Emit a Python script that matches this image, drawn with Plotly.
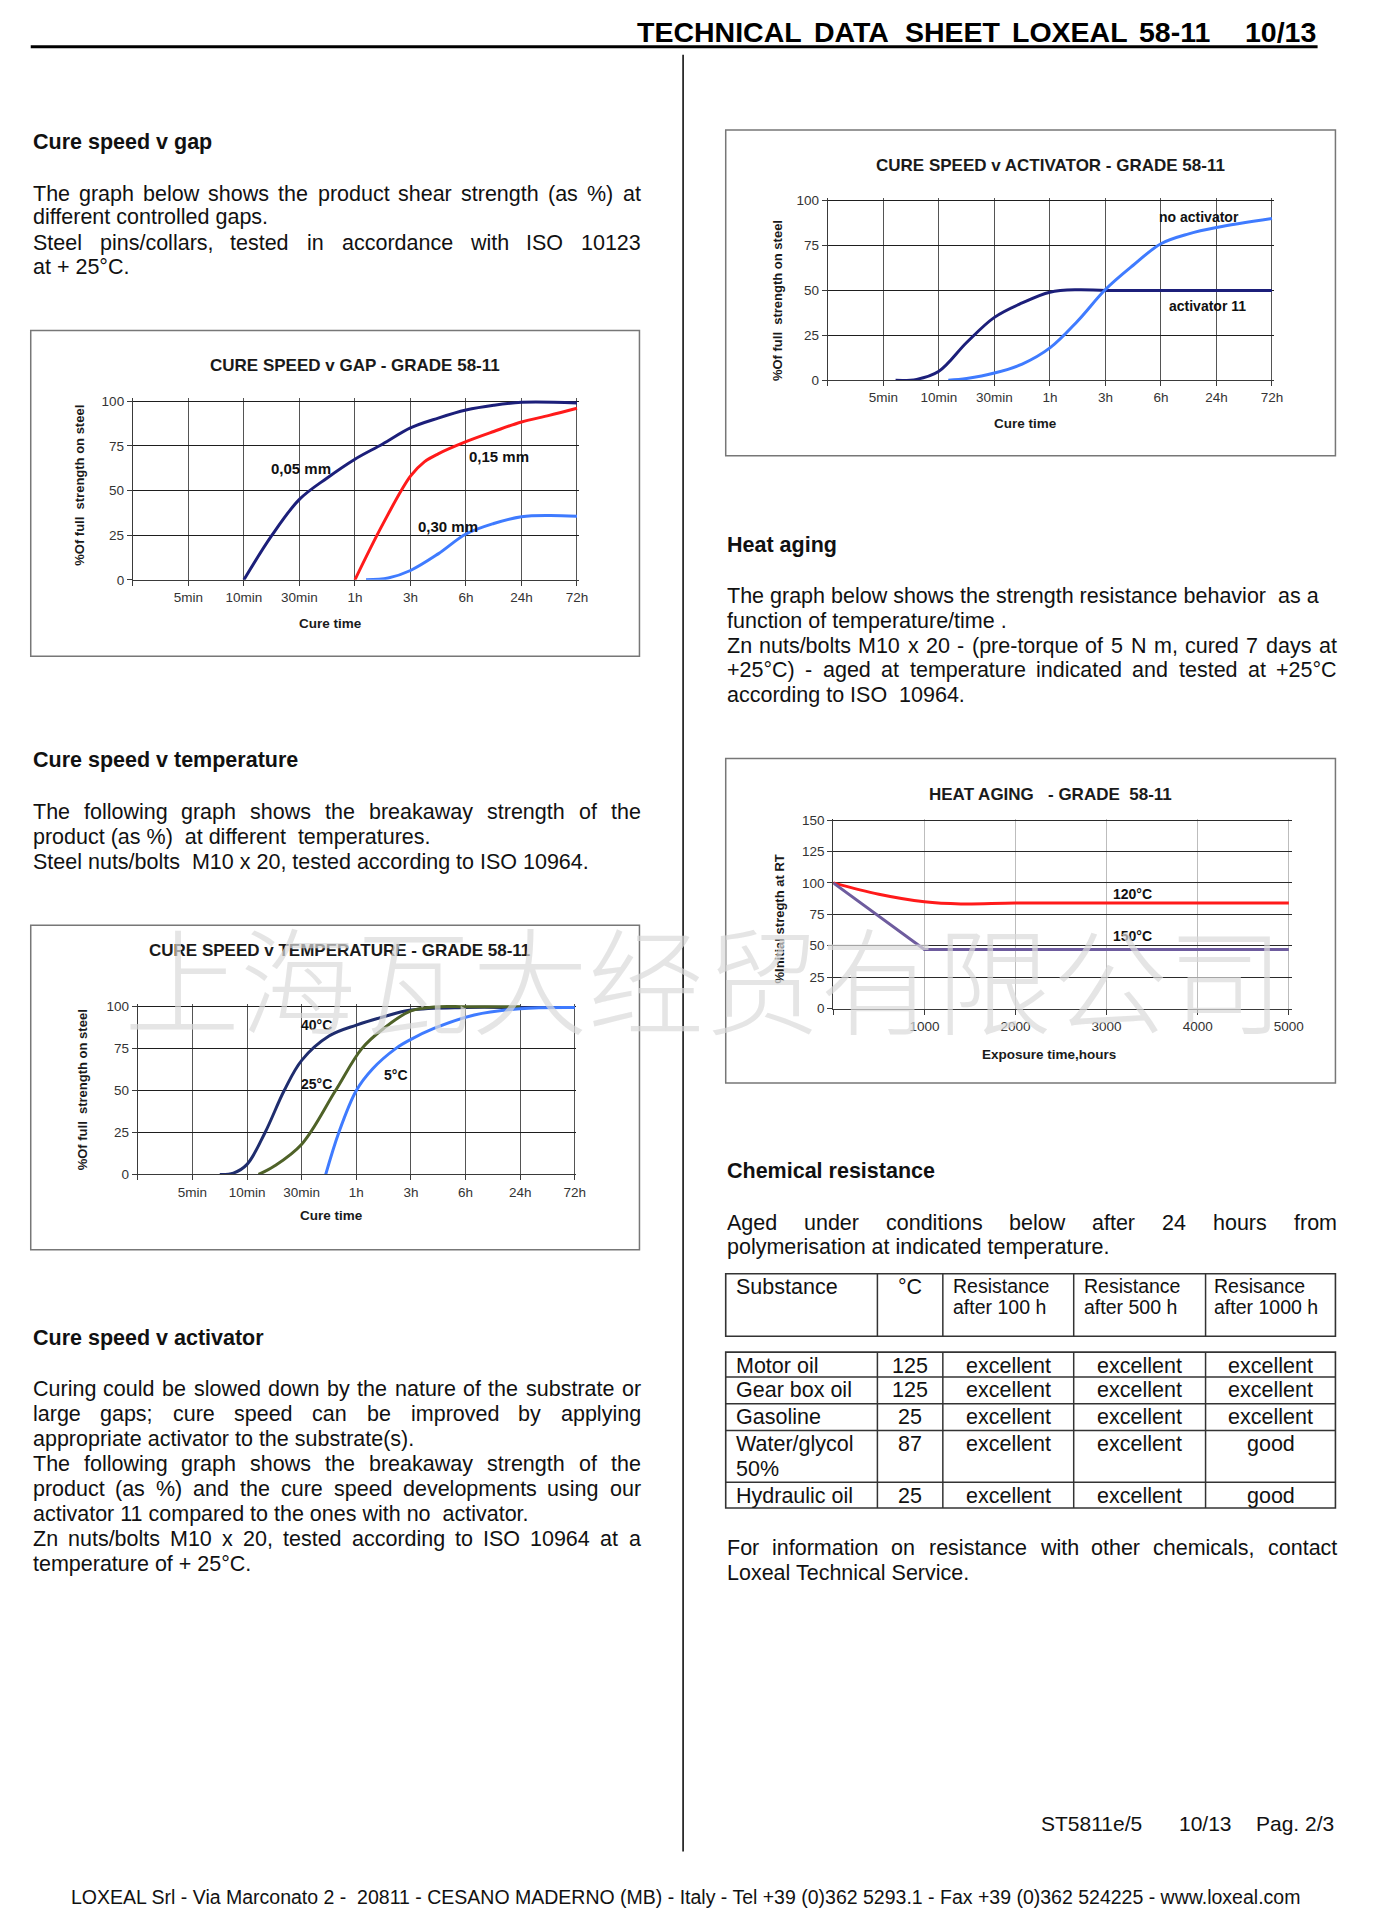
import plotly.graph_objects as go

W, H = 1398, 1920

# ---------------- data ----------------
time_ticks = ['', '5min', '10min', '30min', '1h', '3h', '6h', '24h', '72h']
pct_ticks = [0, 25, 50, 75, 100]
heat_x_ticks = [0, 1000, 2000, 3000, 4000, 5000]
heat_x_text = ['', '1000', '2000', '3000', '4000', '5000']
heat_y_ticks = [0, 25, 50, 75, 100, 125, 150]

# Cure speed v gap (x = position on the cure-time category scale, y = % strength)
gap005_t = [2.0, 2.5, 3.0, 3.5, 4.0, 4.5, 5.0, 5.5, 6.0, 6.5, 7.0, 8.0]
gap005_v = [0, 24.7, 45, 57, 67.5, 76, 85, 90.5, 95, 97.7, 99.3, 99.0]
gap015_t = [4.0, 4.5, 5.0, 5.25, 5.5, 6.0, 6.5, 7.0, 7.5, 8.0]
gap015_v = [0, 31, 58, 66, 70.5, 77.3, 83, 88.3, 92, 96]
gap030_t = [4.2, 4.6, 5.0, 5.5, 6.0, 6.5, 7.0, 7.5, 8.0]
gap030_v = [0, 1, 5.2, 14.5, 25.6, 31.5, 35.3, 36, 35.5]

# Cure speed v activator
act11_t = [1.22, 1.6, 2.0, 2.5, 3.0, 3.5, 4.0, 4.5, 5.0, 6.0, 7.0, 8.0]
act11_v = [0, 0.5, 5, 21, 35, 43, 49, 50.4, 50, 50, 50, 50]
noact_t = [2.17, 2.5, 3.0, 3.5, 4.0, 4.5, 5.0, 5.5, 6.0, 6.5, 7.0, 8.0]
noact_v = [0, 1, 4, 9, 18, 33, 50.5, 64, 76, 81.5, 85, 90]

# Cure speed v temperature
t40_t = [1.5, 1.75, 2.0, 2.33, 2.68, 3.0, 3.5, 4.0, 4.5, 5.0, 6.0, 7.0, 8.0]
t40_v = [0, 0.8, 6, 25, 50, 68, 82.5, 89, 94, 98, 99.5, 99.5, 99.5]
t25_t = [2.21, 2.5, 3.0, 3.62, 4.1, 4.5, 5.0, 5.5, 6.0, 7.0]
t25_v = [0, 5, 18, 50, 75, 87, 97.5, 100, 100, 100]
t5_t = [3.44, 3.68, 4.0, 4.3, 4.72, 5.0, 5.42, 6.16, 7.0, 8.0]
t5_v = [0, 25, 50, 63, 75, 80.5, 87, 95, 98.8, 99.5]

# Heat aging (hours, % initial strength)
h120_x = [0, 500, 1000, 1400, 2000, 3000, 4000, 5000]
h120_v = [100, 91, 85, 83.3, 84, 84, 84, 84]
h150_x = [0, 1000, 2000, 3000, 4000, 5000]
h150_v = [100, 47, 47, 47, 47, 47]

# Chemical resistance table
tbl_head = ['Substance', '°C', 'Resistance|after 100 h', 'Resistance|after 500 h', 'Resisance|after 1000 h']
substances = ['Motor oil', 'Gear box oil', 'Gasoline', 'Water/glycol|50%', 'Hydraulic oil']
temps = ['125', '125', '25', '87', '25']
res100 = ['excellent', 'excellent', 'excellent', 'excellent', 'excellent']
res500 = ['excellent', 'excellent', 'excellent', 'excellent', 'excellent']
res1000 = ['excellent', 'excellent', 'excellent', 'good', 'good']

# ---------------- helpers ----------------
FONT = 'Liberation Sans, Arial, sans-serif'
AR = {' ': 278, '!': 278, '%': 889, '(': 333, ')': 333, '+': 584, ',': 278, '-': 333, '.': 278,
      '/': 278, ':': 278, ';': 278, '°': 400}
for c in '0123456789':
    AR[c] = 556
AR.update(dict(zip('ABCDEFGHIJKLMNOPQRSTUVWXYZ',
                   [667, 667, 722, 722, 667, 611, 778, 722, 278, 500, 667, 556, 833, 722, 778, 667,
                    778, 722, 667, 611, 722, 667, 944, 667, 667, 611])))
AR.update(dict(zip('abcdefghijklmnopqrstuvwxyz',
                   [556, 556, 500, 556, 556, 278, 556, 556, 222, 222, 500, 222, 833, 556, 556, 556,
                    556, 333, 500, 278, 556, 500, 722, 500, 500, 500])))
AB = dict(AR)
AB.update(dict(zip('ABCDEFGHIJKLMNOPQRSTUVWXYZ',
                   [722, 722, 722, 722, 667, 611, 778, 722, 278, 556, 722, 611, 833, 722, 778, 667,
                    778, 722, 667, 611, 722, 667, 944, 667, 667, 611])))


def tw(s, size, table=AR):
    return sum(table.get(c, 556) for c in s) * size / 1000.0


annotations = []
shapes = []


def txt(s, xpx, ypx, size=21.5, anchor='left', color='#111111', bold=False, family=FONT, angle=0):
    annotations.append(dict(
        text=('<b>%s</b>' % s) if bold else s, x=xpx / W, y=1 - ypx / H, xref='paper', yref='paper',
        xanchor=anchor, yanchor='middle', showarrow=False, textangle=angle,
        font=dict(family=family, size=size, color=color), borderpad=0))


def line_text(s, ypx, left, right, justify, size=21.5, bold=False, color='#111111'):
    if not justify:
        txt(s, left, ypx, size, bold=bold, color=color)
        return
    words = s.split()
    table = AB if bold else AR
    widths = [tw(w, size, table) for w in words]
    gap = (right - left - sum(widths)) / (len(words) - 1)
    x = left
    for w, wd in zip(words, widths):
        txt(w, x, ypx, size, bold=bold, color=color)
        x += wd + gap


def hline(x0, x1, y, width=1.5, color='#333333'):
    shapes.append(dict(type='line', xref='paper', yref='paper', x0=x0 / W, x1=x1 / W,
                       y0=1 - y / H, y1=1 - y / H, line=dict(color=color, width=width)))


def vline(x, y0, y1, width=1.5, color='#333333'):
    shapes.append(dict(type='line', xref='paper', yref='paper', x0=x / W, x1=x / W,
                       y0=1 - y0 / H, y1=1 - y1 / H, line=dict(color=color, width=width)))


def rect(x0, y0, x1, y1, width=1.5, color='#777777'):
    shapes.append(dict(type='rect', xref='paper', yref='paper', x0=x0 / W, x1=x1 / W,
                       y0=1 - y1 / H, y1=1 - y0 / H, line=dict(color=color, width=width)))


fig = go.Figure()
layout_axes = {}
TICKFONT = dict(family=FONT, size=13.5, color='#333333')


def cure_axes(n, x0px, dx, y0px, dy):
    xr = [0, 8.03]
    yr = [0, 101.5]
    xs = '' if n == 1 else str(n)
    layout_axes['xaxis' + xs] = dict(
        domain=[x0px / W, (x0px + xr[1] * dx) / W], range=xr, anchor='y' + xs,
        tickmode='array', tickvals=list(range(9)), ticktext=time_ticks,
        showgrid=True, gridcolor='#555555', gridwidth=1, zeroline=False,
        showline=True, linecolor='#3a3a3a', linewidth=1, ticks='outside', ticklen=5,
        tickcolor='#3a3a3a', tickfont=TICKFONT, fixedrange=True)
    layout_axes['yaxis' + xs] = dict(
        domain=[1 - y0px / H, 1 - (y0px - yr[1] * dy) / H], range=yr, anchor='x' + xs,
        tickmode='array', tickvals=pct_ticks, showgrid=True, gridcolor='#1e1e1e', gridwidth=1,
        zeroline=False, showline=True, linecolor='#3a3a3a', linewidth=1, ticks='outside',
        ticklen=5, tickcolor='#3a3a3a', tickfont=TICKFONT, fixedrange=True)


def curve(xs, ys, color, n, shape='spline'):
    s = '' if n == 1 else str(n)
    fig.add_trace(go.Scatter(x=xs, y=ys, mode='lines', xaxis='x' + s, yaxis='y' + s,
                             line=dict(color=color, width=3, shape=shape, smoothing=1.0),
                             hoverinfo='skip', showlegend=False))


def data_label(s, x, y, n, size=14.5):
    sfx = '' if n == 1 else str(n)
    annotations.append(dict(text='<b>%s</b>' % s, x=x, y=y, xref='x' + sfx, yref='y' + sfx,
                            showarrow=False, xanchor='center', yanchor='middle',
                            font=dict(family=FONT, size=size, color='#111111')))


NAVY = '#1c1f7a'
RED = '#ff1a1a'
LBLUE = '#3f7bff'

# ---- chart 1: cure speed v gap ----
cure_axes(1, 134, 56, 578, 1.8)
curve(gap005_t, gap005_v, NAVY, 1)
curve(gap015_t, gap015_v, RED, 1)
curve(gap030_t, gap030_v, LBLUE, 1)
data_label('0,05 mm', 3.02, 62.2, 1, 15)
data_label('0,15 mm', 6.59, 68.9, 1, 15)
data_label('0,30 mm', 5.68, 30.0, 1, 15)
rect(31, 327, 645, 655)
txt('CURE SPEED v GAP - GRADE 58-11', 358, 362, 17, 'center', '#1a1a1a', True)
txt('Cure time', 333, 622, 13.5, 'center', '#1a1a1a', True)
txt('%Of full  strength on steel', 80, 483, 13, 'center', '#1a1a1a', True, angle=-90)

# ---- chart 2: cure speed v activator ----
cure_axes(2, 835, 56, 377, 1.81)
curve(act11_t, act11_v, NAVY, 2)
curve(noact_t, noact_v, LBLUE, 2)
data_label('no activator', 6.68, 90.6, 2, 14)
data_label('activator 11', 6.84, 41.4, 2, 14)
rect(732, 125, 1347, 453)
txt('CURE SPEED v ACTIVATOR - GRADE 58-11', 1060, 161, 17, 'center', '#1a1a1a', True)
txt('Cure time', 1034, 421, 13.5, 'center', '#1a1a1a', True)
txt('%Of full  strength on steel', 785, 297, 13, 'center', '#1a1a1a', True, angle=-90)

# ---- chart 3: cure speed v temperature ----
cure_axes(3, 139, 55.1, 1177, 1.69)
curve(t40_t, t40_v, '#1f2d6e', 3)
curve(t25_t, t25_v, '#4f6228', 3)
curve(t5_t, t5_v, LBLUE, 3)
data_label('40°C', 3.28, 88.8, 3, 14)
data_label('25°C', 3.28, 53.8, 3, 14)
data_label('5°C', 4.72, 59.2, 3, 14)
rect(31, 926, 645, 1253)
txt('CURE SPEED v TEMPERATURE - GRADE 58-11', 342, 951, 17, 'center', '#1a1a1a', True)
txt('Cure time', 334, 1218, 13.5, 'center', '#1a1a1a', True)
txt('%Of full  strength on steel', 83, 1092, 13, 'center', '#1a1a1a', True, angle=-90)

# ---- chart 4: heat aging ----
hx0, hdx, hy0, hdy = 840.5, 0.0919, 1010, 1.2667
layout_axes['xaxis4'] = dict(
    domain=[hx0 / W, (hx0 + 5030 * hdx) / W], range=[0, 5030], anchor='y4',
    tickmode='array', tickvals=heat_x_ticks, ticktext=heat_x_text, showgrid=True,
    gridcolor='#bdbdbd', gridwidth=1, zeroline=False, showline=True, linecolor='#3a3a3a',
    linewidth=1, ticks='outside', ticklen=5, tickcolor='#3a3a3a', tickfont=TICKFONT, fixedrange=True)
layout_axes['yaxis4'] = dict(
    domain=[1 - hy0 / H, 1 - (hy0 - 151 * hdy) / H], range=[0, 151], anchor='x4',
    tickmode='array', tickvals=heat_y_ticks, showgrid=True, gridcolor='#2a2a2a', gridwidth=1,
    zeroline=False, showline=True, linecolor='#3a3a3a', linewidth=1, ticks='outside',
    ticklen=5, tickcolor='#3a3a3a', tickfont=TICKFONT, fixedrange=True)
curve(h120_x, h120_v, RED, 4)
curve(h150_x, h150_v, '#6e5c9e', 4, shape='linear')
data_label('120°C', 3281, 90.8, 4, 14)
data_label('150°C', 3281, 57.6, 4, 14)
rect(732, 758, 1347, 1085)
txt('HEAT AGING   - GRADE  58-11', 1060, 794, 17, 'center', '#1a1a1a', True)
txt('Exposure time,hours', 1058, 1056, 13.5, 'center', '#1a1a1a', True)
txt('%Initial stregth at RT', 786, 920, 13, 'center', '#1a1a1a', True, angle=-90)

# ---------------- page furniture ----------------
line_text('TECHNICAL DATA SHEET LOXEAL 58-11', 26, 642, 1221, True, size=28.5, bold=True, color='#000000')
txt('10/13', 1328, 26, 28.5, 'right', '#000000', True)
hline(31, 1329, 41, width=3, color='#000000')
vline(689, 49, 1859, width=1.5, color='#000000')

L0, L1 = 32, 645
R0, R1 = 732, 1347

txt('Cure speed v gap', L0, 137, 21.5, bold=True)
line_text('The graph below shows the product shear strength (as %) at', 189, L0, L1, True)
line_text('different controlled gaps.', 213, L0, L1, False)
line_text('Steel pins/collars, tested in accordance with ISO 10123', 238.5, L0, L1, True)
line_text('at + 25°C.', 263, L0, L1, False)

txt('Cure speed v temperature', L0, 760, 21.5, bold=True)
line_text('The following graph shows the breakaway strength of the', 812, L0, L1, True)
line_text('product (as %)  at different  temperatures.', 837.5, L0, L1, False)
line_text('Steel nuts/bolts  M10 x 20, tested according to ISO 10964.', 862, L0, L1, False)

txt('Cure speed v activator', L0, 1342, 21.5, bold=True)
act_lines = [
    ('Curing could be slowed down by the nature of the substrate or', True),
    ('large gaps; cure speed can be improved by applying', True),
    ('appropriate activator to the substrate(s).', False),
    ('The following graph shows the breakaway strength of the', True),
    ('product (as %) and the cure speed developments using our', True),
    ('activator 11 compared to the ones with no  activator.', False),
    ('Zn nuts/bolts M10 x 20, tested according to ISO 10964 at a', True),
    ('temperature of + 25°C.', False),
]
for i, (s, j) in enumerate(act_lines):
    line_text(s, 1393.5 + i * 25.2, L0, L1, j)

txt('Heat aging', R0, 542.5, 21.5, bold=True)
heat_lines = [
    ('The graph below shows the strength resistance behavior  as a', False),
    ('function of temperature/time .', False),
    ('Zn nuts/bolts M10 x 20 - (pre-torque of 5 N m, cured 7 days at', True),
    ('+25°C) - aged at temperature indicated and tested at +25°C', True),
    ('according to ISO  10964.', False),
]
for i, (s, j) in enumerate(heat_lines):
    line_text(s, 594 + i * 25.1, R0, R1, j)

txt('Chemical resistance', R0, 1174, 21.5, bold=True)
line_text('Aged under conditions below after 24 hours from', 1225.7, R0, R1, True)
line_text('polymerisation at indicated temperature.', 1250, R0, R1, False)

# ---- table ----
cols = [R0, 885, 951, 1083, 1216, R1]
rect(R0, 1277, R1, 1340, width=1.6, color='#333333')
rect(R0, 1356, R1, 1513, width=1.6, color='#333333')
for cx in cols[1:-1]:
    vline(cx, 1277, 1340, width=1.5)
    vline(cx, 1356, 1513, width=1.5)
row_tops = [1356, 1381, 1408, 1435, 1487, 1513]
for ry in row_tops[1:-1]:
    hline(R0, R1, ry, width=1.5)

txt(tbl_head[0], 741, 1290.5, 21.5)
txt(tbl_head[1], 918, 1290.5, 21.5, 'center')
for k, hx in zip(range(2, 5), [960, 1092, 1224]):
    a, b = tbl_head[k].split('|')
    txt(a, hx, 1289, 19.5)
    txt(b, hx, 1311, 19.5)

centers = [(951 + 1083) / 2, (1083 + 1216) / 2, (1216 + R1) / 2]
for i in range(5):
    ytop = row_tops[i] + 13.5
    parts = substances[i].split('|')
    for k, p in enumerate(parts):
        txt(p, 741, ytop + k * 25, 21.5)
    txt(temps[i], 918, ytop, 21.5, 'center')
    txt(res100[i], centers[0], ytop, 21.5, 'center')
    txt(res500[i], centers[1], ytop, 21.5, 'center')
    txt(res1000[i], centers[2], ytop, 21.5, 'center')

line_text('For information on resistance with other chemicals, contact', 1553, R0, R1, True)
line_text('Loxeal Technical Service.', 1578.5, R0, R1, False)

txt('ST5811e/5', 1049, 1831, 21)
txt('10/13', 1188, 1831, 21)
txt('Pag. 2/3', 1347, 1831, 21, 'right')

footer = 'LOXEAL Srl - Via Marconato 2 -  20811 - CESANO MADERNO (MB) - Italy - Tel +39 (0)362 5293.1 - Fax +39 (0)362 524225 - www.loxeal.com'
fsize = 1236 / (tw(footer, 1000) / 1000.0)
txt(footer, 71, 1905, round(fsize, 2))

# ---- watermark (drawn last, on top) ----
annotations.append(dict(text='上海瓦大经贸有限公司', x=710 / W, y=1 - 976 / H, xref='paper', yref='paper',
                        xanchor='center', yanchor='middle', showarrow=False,
                        font=dict(family='Noto Sans CJK SC', size=116, color='rgba(218,218,218,0.7)',
                                  weight=300)))

fig.update_layout(
    width=W, height=H, margin=dict(l=0, r=0, t=0, b=0), paper_bgcolor='white',
    plot_bgcolor='rgba(0,0,0,0)', showlegend=False, annotations=annotations, shapes=shapes,
    font=dict(family=FONT), **layout_axes)

fig.write_html('out.html', config={'displayModeBar': False, 'staticPlot': True},
               post_script="document.body.style.margin='0';document.body.style.padding='0';"
                           "document.body.style.overflow='hidden';")
